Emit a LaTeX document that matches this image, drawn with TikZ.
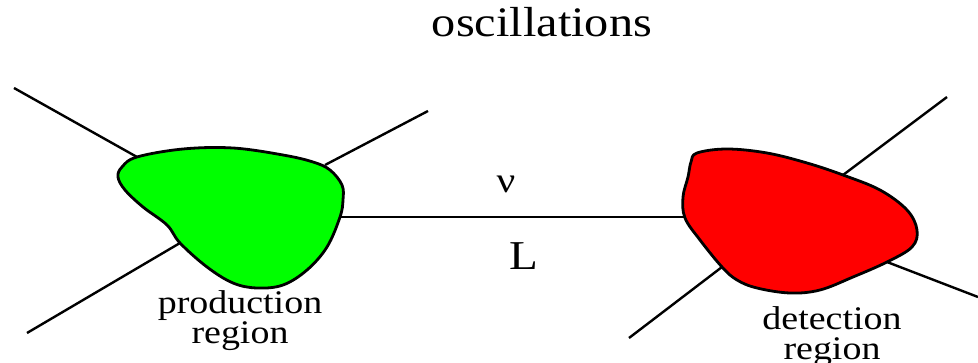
\documentclass[tikz,border=0pt]{standalone}
\usepackage{fontspec}
\setmainfont{Liberation Serif}
\definecolor{blobgreen}{RGB}{0,255,0}
\definecolor{blobred}{RGB}{255,0,0}
\newcommand{\wtext}[2]{\scalebox{1.15}[1]{\fontsize{#1}{#1}\selectfont #2}}
\newcommand{\wtwo}[2]{\scalebox{1.15}[1]{\fontsize{33}{24.5}\selectfont\begin{tabular}[t]{@{}c@{}}#1\\#2\end{tabular}}}
\tikzset{
  leg/.style={line width=2.4pt, black},
  blob/.style={line width=2.8pt, black, line join=round},
  lbl/.style={inner sep=0pt, anchor=base},
}
\begin{document}
\begin{tikzpicture}[x=1pt,y=-1pt]
\useasboundingbox (0,0) rectangle (978,363);
% connection coordinates
\coordinate (g1) at (14,88);   \coordinate (g1b) at (137,157);
\coordinate (g2) at (428,111); \coordinate (g2b) at (325,165);
\coordinate (g3) at (27,333);  \coordinate (g3b) at (180,243);
\coordinate (gR) at (340,217); \coordinate (rL) at (685,217);
\coordinate (r1) at (947,97);  \coordinate (r1b) at (843,175);
\coordinate (r2) at (978,297); \coordinate (r2b) at (887,262);
\coordinate (r3) at (629,338); \coordinate (r3b) at (722,267);
% legs
\draw[leg] (g1) -- (g1b);
\draw[leg] (g2) -- (g2b);
\draw[leg] (g3) -- (g3b);
\draw[leg] (gR) -- (rL);
\draw[leg] (r1) -- (r1b);
\draw[leg] (r2) -- (r2b);
\draw[leg] (r3) -- (r3b);
% production blob
\draw[blob, fill=blobgreen] plot[smooth cycle, tension=0.6] coordinates {
 (118,177) (122,167) (137,157) (183,149) (233,148) (283,155) (313,162)
 (330,170) (342,185) (343,200) (340,217) (327,247) (307,270) (283,285)
 (257,288) (233,283) (207,267) (180,243) (167,225) (143,207) (125,190)};
% detection blob
\draw[blob, fill=blobred] plot[smooth cycle, tension=0.6] coordinates {
 (697,153) (727,149) (767,153) (807,163) (843,175) (880,190) (907,210)
 (917,230) (912,247) (887,262) (853,277) (820,290) (790,293) (757,288)
 (737,280) (722,267) (700,240) (685,218) (683,197) (688,177) (691,162)};
% texts
\node[lbl] (title) at (542,37) {\wtext{42}{oscillations}};
\node[lbl] (nu) at (506,193) {\wtext{36}{ν}};
\node[lbl] (L) at (524,270) {\wtext{41}{L}};
\node[lbl] (prod) at (240,314) {\wtwo{production}{region}};
\node[lbl] (det) at (832,330) {\wtwo{detection}{region}};
\end{tikzpicture}
\end{document}
